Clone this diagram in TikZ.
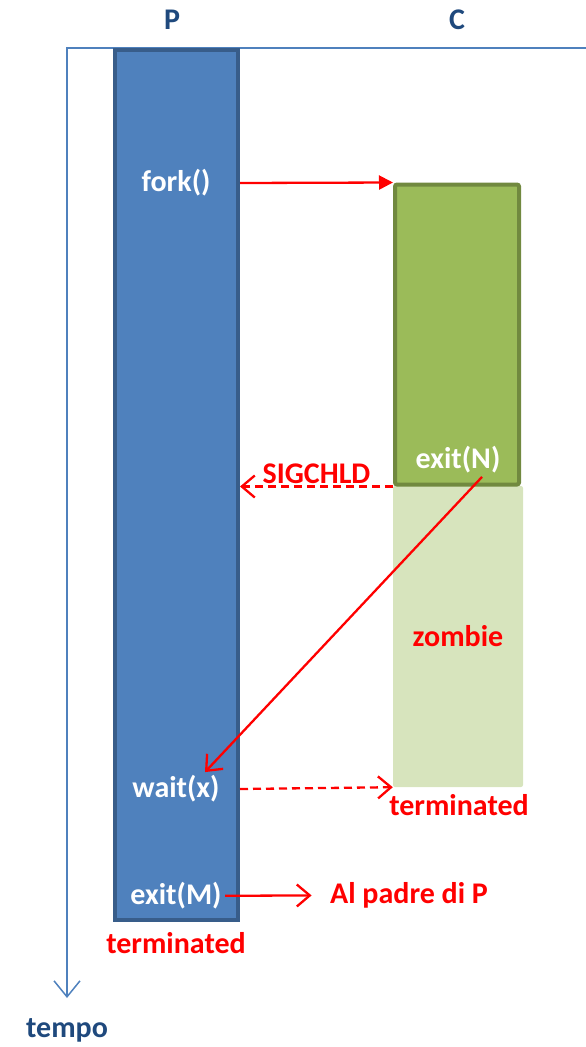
\documentclass[tikz,border=0pt]{standalone}
\usepackage{fontspec}
\setmainfont{Carlito}
\usepackage{xcolor}
\usepackage{tikz}
\usetikzlibrary{arrows.meta,positioning}
\definecolor{pblue}{HTML}{4F81BD}
\definecolor{pborder}{HTML}{385D8A}
\definecolor{cgreen}{HTML}{9BBB59}
\definecolor{cborder}{HTML}{71893F}
\definecolor{zgreen}{HTML}{D7E4BD}
\definecolor{navy}{HTML}{1F497D}

\begin{document}
\begin{tikzpicture}[x=1pt, y=-1pt, font=\fontsize{30}{34}\selectfont\bfseries,
  >={Straight Barb[length=13pt,width=22pt]},
  proc/.style = {draw=pborder, fill=pblue, line width=4pt, minimum width=123pt, minimum height=870pt},
  child/.style = {draw=cborder, fill=cgreen, line width=4pt, rounded corners=2pt, minimum width=124pt, minimum height=300pt},
  zomb/.style = {fill=zgreen, text=red, rounded corners=2pt, minimum width=130pt, minimum height=301pt},
  call/.style = {text=white},
  lbl/.style = {text=red},
  title/.style = {text=navy},
  sig/.style = {red, line width=2.3pt},
  sigdash/.style = {sig, dash pattern=on 8pt off 5pt}]
\useasboundingbox (0,0) rectangle (586,1047);
\coordinate (o) at (67,48);
\coordinate (xend) at (586,48);
\coordinate (tend) at (67,998);
\draw[pblue, line width=1.5pt, -{Straight Barb[length=16pt,width=26pt]}] (xend) -- (o) -- (tend);
\node[title] (plab) at (172,20) {P};
\node[title] (clab) at (457,20) {C};
\node[title] (tempo) at (67,1030) {tempo};
\node[proc] (P) at (176.5,485) {};
\node[zomb] (Z) at (458,636.5) {zombie};
\node[child] (C) at (457,334.5) {};
\node[call] (fork) at (176,183) {fork()};
\node[call] (exitN) at (458,460) {exit(N)};
\node[call] (wait) at (176,789) {wait(x)};
\node[call] (exitM) at (176,896) {exit(M)};
\node[lbl] (termC) at (459,805) {terminated};
\node[lbl] (termP) at (176,943) {terminated};
\node[lbl] (padre) at (409,895) {Al padre di P};
\draw[sig, -{Triangle[length=14pt,width=14pt]}] (P.east |- fork) -- (C.north west);
\draw[sigdash, ->] (C.south west) -- node[lbl, above=-2pt] {SIGCHLD} (P.east |- C.south west);
\draw[sig, ->] ([xshift=24pt]exitN.south) -- ([xshift=29pt]wait.north);
\draw[sigdash, ->] (P.east |- wait) -- (Z.south west);
\draw[sig, ->, shorten >=15pt] (exitM) -- (padre);
\end{tikzpicture}
\end{document}
